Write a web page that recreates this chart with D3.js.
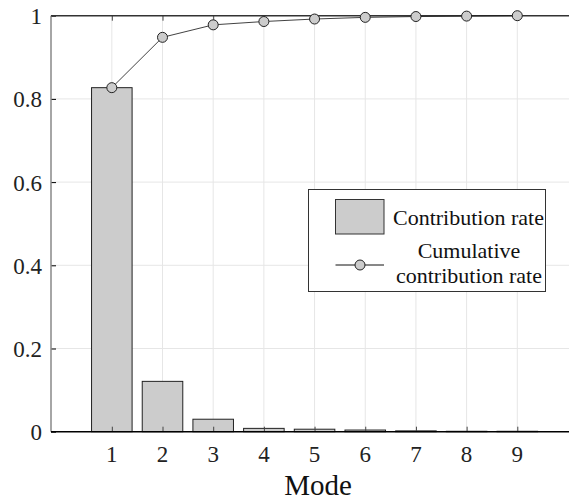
<!DOCTYPE html>
<html><head><meta charset="utf-8">
<script src="https://cdn.jsdelivr.net/npm/d3@7"></script>
<style>html,body{margin:0;padding:0;background:#fff;}svg{display:block;}</style>
</head><body>
<svg id="c" width="569" height="503"></svg>
<script>
const modes = [1,2,3,4,5,6,7,8,9];
const contribution = [0.827,0.121,0.030,0.008,0.006,0.004,0.002,0.001,0.001];
const cumulative = [0.827,0.948,0.978,0.986,0.992,0.996,0.998,0.999,1.000];
const yTicks = [0,0.2,0.4,0.6,0.8,1];
const yTickLabels = ["0","0.2","0.4","0.6","0.8","1"];
const legendLabels = ["Contribution rate","Cumulative","contribution rate"];
const xLabel = "Mode";

const svg = d3.select("#c");
const font = "Liberation Serif";
const L=51, R=569, T=15.7, B=431.7;
const x = d3.scaleLinear().domain([-0.2,10.02]).range([L,R]);
const y = d3.scaleLinear().domain([0,1]).range([B,T]);
const bw = (x(1)-x(0))*0.8;

// grid
svg.append("g").selectAll("line").data(modes).join("line")
  .attr("x1",d=>x(d)).attr("x2",d=>x(d)).attr("y1",T).attr("y2",B)
  .attr("stroke","#e6e6e6").attr("stroke-width",1);
svg.append("g").selectAll("line").data(yTicks.slice(1,-1)).join("line")
  .attr("x1",L).attr("x2",R).attr("y1",d=>y(d)).attr("y2",d=>y(d))
  .attr("stroke","#e6e6e6").attr("stroke-width",1);

// bars
svg.append("g").selectAll("rect").data(modes).join("rect")
  .attr("x",(d)=>x(d)-bw/2).attr("width",bw)
  .attr("y",(d,i)=>y(contribution[i])).attr("height",(d,i)=>B-y(contribution[i]))
  .attr("fill","#cccccc").attr("stroke","#222").attr("stroke-width",1);

// axes
const yAxis = d3.axisRight(y).tickValues(yTicks).tickSize(5).tickFormat("");
const ga = svg.append("g").attr("transform",`translate(${L},0)`).call(yAxis);
ga.select(".domain").remove();
ga.selectAll("line").attr("stroke","#000");
svg.append("line").attr("x1",L).attr("x2",L).attr("y1",T).attr("y2",B).attr("stroke","#888").attr("stroke-width",1.5);
svg.append("g").selectAll("text").data(yTicks).join("text")
  .attr("x",42).attr("y",d=>y(d)+8.5).attr("text-anchor","end")
  .attr("font-family",font).attr("font-size",23).attr("fill","#222")
  .text((d,i)=>yTickLabels[i]);

const xb = d3.axisTop(x).tickValues(modes).tickSize(5).tickFormat("");
const gb = svg.append("g").attr("transform",`translate(0,${B})`).call(xb);
gb.select(".domain").remove(); gb.selectAll("line").attr("stroke","#444");
const xt = d3.axisBottom(x).tickValues(modes).tickSize(5).tickFormat("");
const gt = svg.append("g").attr("transform",`translate(0,${T})`).call(xt);
gt.select(".domain").remove(); gt.selectAll("line").attr("stroke","#444");
svg.append("line").attr("x1",L).attr("x2",R).attr("y1",B).attr("y2",B).attr("stroke","#000").attr("stroke-width",1.5);
svg.append("line").attr("x1",L).attr("x2",R).attr("y1",T).attr("y2",T).attr("stroke","#333").attr("stroke-width",1.5);

svg.append("g").selectAll("text").data(modes).join("text")
  .attr("x",d=>x(d)).attr("y",462).attr("text-anchor","middle")
  .attr("font-family",font).attr("font-size",23).attr("fill","#222").text(d=>d);
svg.append("text").attr("x",318).attr("y",495).attr("text-anchor","middle")
  .attr("font-family",font).attr("font-size",29).attr("fill","#111").text(xLabel);

// cumulative line
const line = d3.line().x((d,i)=>x(modes[i])).y(d=>y(d));
svg.append("path").datum(cumulative).attr("d",line).attr("fill","none").attr("stroke","#111").attr("stroke-width",0.8);
svg.append("g").selectAll("circle").data(cumulative).join("circle")
  .attr("cx",(d,i)=>x(modes[i])).attr("cy",d=>y(d)).attr("r",5)
  .attr("fill","#cccccc").attr("stroke","#222").attr("stroke-width",1);

// legend
const lg = svg.append("g");
lg.append("rect").attr("x",308.5).attr("y",189.5).attr("width",237).attr("height",102)
  .attr("fill","#fff").attr("stroke","#333").attr("stroke-width",1);
lg.append("rect").attr("x",335.5).attr("y",199.5).attr("width",48.5).attr("height",34.5)
  .attr("fill","#cccccc").attr("stroke","#333").attr("stroke-width",1);
lg.append("text").attr("x",393).attr("y",225).attr("font-family",font).attr("font-size",22).attr("fill","#111").text(legendLabels[0]);
lg.append("line").attr("x1",335.5).attr("x2",384).attr("y1",265).attr("y2",265).attr("stroke","#111").attr("stroke-width",1);
lg.append("circle").attr("cx",360).attr("cy",265).attr("r",5).attr("fill","#cccccc").attr("stroke","#222");
lg.append("text").attr("x",469).attr("y",258).attr("text-anchor","middle").attr("font-family",font).attr("font-size",22).attr("fill","#111").text(legendLabels[1]);
lg.append("text").attr("x",469).attr("y",283).attr("text-anchor","middle").attr("font-family",font).attr("font-size",22).attr("fill","#111").text(legendLabels[2]);
</script>
</body></html>
